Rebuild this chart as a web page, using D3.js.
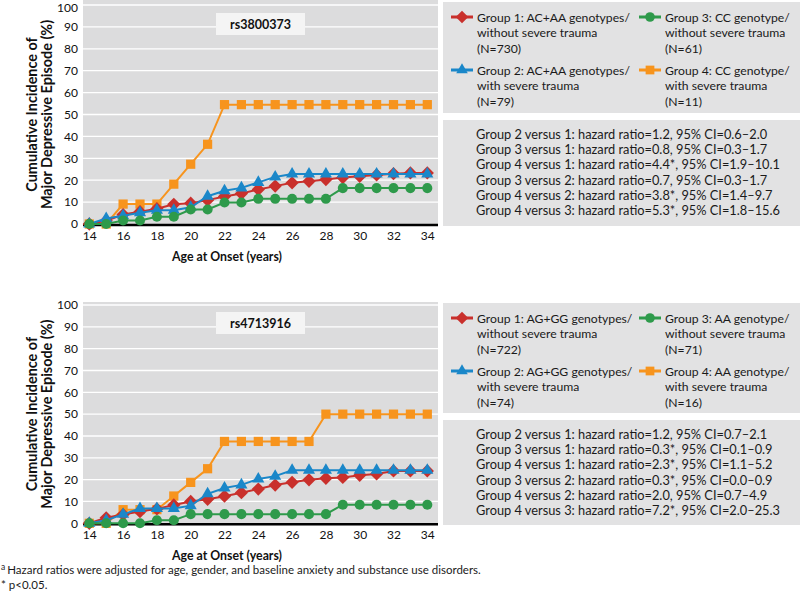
<!DOCTYPE html>
<html><head><meta charset="utf-8">
<script src="https://cdn.jsdelivr.net/npm/d3@7"></script>
<style>
body{margin:0;background:#fff;}
svg{display:block;font-family:Lato,sans-serif;}
</style></head>
<body><svg id="c" width="800" height="598"></svg>
<script>
// ---------- DATA ----------
const ages = [14,15,16,17,18,19,20,21,22,23,24,25,26,27,28,29,30,31,32,33,34];
const xTicks = [14,16,18,20,22,24,26,28,30,32,34];
const yTicks = [0,10,20,30,40,50,60,70,80,90,100];

// Panel A: rs3800373
const a_g1 = [0,1.5,4.3,5.6,7.0,9.0,9.5,10.9,12.6,13.9,15.8,17.3,18.8,19.5,20.3,21.2,21.8,22.4,23.0,23.3,23.3];
const a_g2 = [0,2.5,3.8,5.1,6.3,6.3,7.6,12.7,15.2,16.5,19.0,21.5,22.8,22.8,22.8,22.8,22.8,22.8,22.8,22.8,22.8];
const a_g3 = [0,0,1.6,1.6,3.3,3.3,6.6,6.6,9.8,9.8,11.5,11.5,11.5,11.5,11.5,16.4,16.4,16.4,16.4,16.4,16.4];
const a_g4 = [0,0,9.1,9.1,9.1,18.2,27.3,36.4,54.5,54.5,54.5,54.5,54.5,54.5,54.5,54.5,54.5,54.5,54.5,54.5,54.5];
const a_legend = [
  ["Group 1: AC+AA genotypes/","without severe trauma","(N=730)"],
  ["Group 2: AC+AA genotypes/","with severe trauma","(N=79)"],
  ["Group 3: CC genotype/","without severe trauma","(N=61)"],
  ["Group 4: CC genotype/","with severe trauma","(N=11)"]
];
const a_stats = [
  "Group 2 versus 1: hazard ratio=1.2, 95% CI=0.6\u20132.0",
  "Group 3 versus 1: hazard ratio=0.8, 95% CI=0.3\u20131.7",
  "Group 4 versus 1: hazard ratio=4.4*, 95% CI=1.9\u201310.1",
  "Group 3 versus 2: hazard ratio=0.7, 95% CI=0.3\u20131.7",
  "Group 4 versus 2: hazard ratio=3.8*, 95% CI=1.4\u20139.7",
  "Group 4 versus 3: hazard ratio=5.3*, 95% CI=1.8\u201315.6"
];

// Panel B: rs4713916
const b_g1 = [0,2.5,4.0,5.4,6.6,8.4,10.0,11.0,12.4,14.0,15.7,17.5,18.8,19.9,20.6,21.0,22.0,22.6,24.0,24.0,24.0];
const b_g2 = [0,1.4,4.1,6.8,6.8,6.8,8.1,13.5,16.2,17.6,20.3,21.6,24.3,24.3,24.3,24.3,24.3,24.3,24.3,24.3,24.3];
const b_g3 = [0,0,0,0,1.4,1.4,4.2,4.2,4.2,4.2,4.2,4.2,4.2,4.2,4.2,8.5,8.5,8.5,8.5,8.5,8.5];
const b_g4 = [0,0,6.25,6.25,6.25,12.5,18.75,25,37.5,37.5,37.5,37.5,37.5,37.5,50,50,50,50,50,50,50];
const b_legend = [
  ["Group 1: AG+GG genotypes/","without severe trauma","(N=722)"],
  ["Group 2: AG+GG genotypes/","with severe trauma","(N=74)"],
  ["Group 3: AA genotype/","without severe trauma","(N=71)"],
  ["Group 4: AA genotype/","with severe trauma","(N=16)"]
];
const b_stats = [
  "Group 2 versus 1: hazard ratio=1.2, 95% CI=0.7\u20132.1",
  "Group 3 versus 1: hazard ratio=0.3*, 95% CI=0.1\u20130.9",
  "Group 4 versus 1: hazard ratio=2.3*, 95% CI=1.1\u20135.2",
  "Group 3 versus 2: hazard ratio=0.3*, 95% CI=0.0\u20130.9",
  "Group 4 versus 2: hazard ratio=2.0, 95% CI=0.7\u20134.9",
  "Group 4 versus 3: hazard ratio=7.2*, 95% CI=2.0\u201325.3"
];

const groupColors = ["#c9302c","#1a87c9","#2e9a4b","#f7941d"];
const groupShapes = ["diamond","triangle","circle","square"];
const yTitle = ["Cumulative Incidence of","Major Depressive Episode (%)"];
const xTitle = "Age at Onset (years)";
const footnotes = ["Hazard ratios were adjusted for age, gender, and baseline anxiety and substance use disorders.","* p<0.05."];

// ---------- DRAW ----------
const svg = d3.select("#c");
const FONT = "Lato";

function symbolPath(shape, scale){
  const s = scale||1;
  const map = {diamond:[d3.symbolSquare,88],triangle:[d3.symbolTriangle,64],circle:[d3.symbolCircle,80],square:[d3.symbolSquare,85]};
  return d3.symbol().type(map[shape][0]).size(map[shape][1]*s)();
}
function symTransform(shape, px, py){
  return `translate(${px},${py})` + (shape==="diamond" ? " rotate(45)" : "");
}

function panel(cfg){
  const g = svg.append("g");
  const x = d3.scaleLinear().domain([14,34]).range([89.3,427.3]);
  const y = d3.scaleLinear().domain([0,100]).range([cfg.y0,cfg.y100]);
  // background
  g.append("rect").attr("x",83).attr("y",cfg.bgTop).attr("width",355).attr("height",cfg.y0+2-cfg.bgTop).attr("fill","#dcdcdd");
  // gridlines
  g.selectAll(".grid").data(yTicks.filter(d=>d>0)).enter().append("line")
    .attr("x1",83).attr("x2",438).attr("y1",d=>y(d)).attr("y2",d=>y(d))
    .attr("stroke","#fff").attr("stroke-width",1.3);
  // y axis labels
  const ya = d3.axisLeft(y).tickValues(yTicks).tickSize(0).tickPadding(0);
  const yg = g.append("g").attr("transform","translate(78,0)").call(ya);
  yg.select(".domain").remove();
  yg.selectAll("text").attr("font-family",FONT).attr("font-size",12).attr("fill","#111")
    .attr("dy", d => (d===100 && cfg.y100 < 10) ? "0.5em" : "0.32em");
  // x axis labels
  const xa = d3.axisBottom(x).tickValues(xTicks).tickSize(0).tickPadding(0);
  const xg = g.append("g").attr("transform",`translate(0,${cfg.y0+7})`).call(xa);
  xg.select(".domain").remove();
  xg.selectAll("text").attr("font-family",FONT).attr("font-size",12).attr("fill","#111");
  // baseline
  g.append("line").attr("x1",83).attr("x2",438).attr("y1",y(0)+1).attr("y2",y(0)+1).attr("stroke","#000").attr("stroke-width",2.5);
  // axis titles
  const cy = (cfg.y0+cfg.y100)/2;
  yTitle.forEach((t,i)=>{
    g.append("text").attr("transform",`translate(${37+i*15},${cy}) rotate(-90)`)
      .attr("text-anchor","middle").attr("font-weight",700).attr("font-size",14.4).attr("fill","#111").text(t);
  });
  g.append("text").attr("x",227).attr("y",cfg.y0+37).attr("text-anchor","middle")
    .attr("font-weight",700).attr("font-size",12.3).attr("fill","#111").text(xTitle);
  // label box
  g.append("rect").attr("x",216).attr("y",cfg.labelY).attr("width",89).attr("height",22).attr("fill","#f4f4f4");
  g.append("text").attr("x",260.5).attr("y",cfg.labelY+15.5).attr("text-anchor","middle")
    .attr("font-weight",700).attr("font-size",12.5).attr("fill","#111").text(cfg.label);
  // series
  const line = d3.line().x((d,i)=>x(ages[i])).y(d=>y(d));
  const drawOrder = [3,0,1,2];
  drawOrder.forEach(k=>{
    const s = cfg.series[k];
    g.append("path").datum(s).attr("d",line).attr("fill","none").attr("stroke",groupColors[k]).attr("stroke-width",2);
    g.selectAll(null).data(s).enter().append("path")
      .attr("transform",(d,i)=>symTransform(groupShapes[k], x(ages[i]), y(d)))
      .attr("d",symbolPath(groupShapes[k])).attr("fill",groupColors[k]);
  });
  // legend box
  g.append("rect").attr("x",443).attr("y",cfg.legTop).attr("width",357).attr("height",cfg.legH).attr("fill","#e2e2e3");
  const colX = [462,650], rowY=[cfg.legTop+15, cfg.legTop+68];
  cfg.legend.forEach((lines,k)=>{
    const cx = colX[k<2?0:1], ry = rowY[k%2];
    g.append("line").attr("x1",cx-11).attr("x2",cx+11).attr("y1",ry).attr("y2",ry).attr("stroke",groupColors[k]).attr("stroke-width",3);
    g.append("path").attr("transform",symTransform(groupShapes[k],cx,ry)).attr("d",symbolPath(groupShapes[k],0.9)).attr("fill",groupColors[k]);
    lines.forEach((t,j)=>{
      g.append("text").attr("x",cx+15).attr("y",ry+4.5+j*15.5).attr("font-size",12.2).attr("fill","#1a1a1a").text(t);
    });
  });
  // stats box
  g.append("rect").attr("x",443).attr("y",cfg.statTop).attr("width",357).attr("height",cfg.statH).attr("fill","#e2e2e3");
  cfg.stats.forEach((t,j)=>{
    g.append("text").attr("x",476).attr("y",cfg.statTop+19+j*15.2).attr("font-size",12.8).attr("fill","#1a1a1a").text(t);
  });
}

panel({y0:224,y100:5,bgTop:0,labelY:13,label:"rs3800373",series:[a_g1,a_g2,a_g3,a_g4],
  legend:a_legend,stats:a_stats,legTop:2,legH:111,statTop:120,statH:106});
panel({y0:523.3,y100:305,bgTop:302,labelY:312,label:"rs4713916",series:[b_g1,b_g2,b_g3,b_g4],
  legend:b_legend,stats:b_stats,legTop:303,legH:110,statTop:420,statH:105});

// footnotes
const fn = svg.append("text").attr("x",1).attr("y",574).attr("font-size",11.5).attr("fill","#1a1a1a");
fn.append("tspan").attr("font-size",8.5).attr("dy",-4).text("a");
fn.append("tspan").attr("dy",4).attr("dx",2).text(footnotes[0]);
svg.append("text").attr("x",1).attr("y",589).attr("font-size",11.5).attr("fill","#1a1a1a").text(footnotes[1]);
</script></body></html>
